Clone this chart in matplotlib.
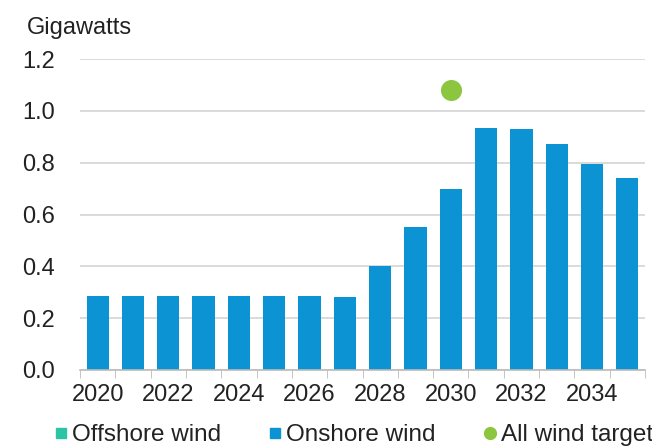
import matplotlib
matplotlib.use("Agg")
import matplotlib.pyplot as plt
from matplotlib.lines import Line2D
import numpy as np

plt.rcParams['font.family'] = ['Liberation Sans', 'DejaVu Sans']

years = list(range(2020, 2036))
onshore = [0.285, 0.285, 0.285, 0.285, 0.285, 0.285, 0.284, 0.283,
           0.40, 0.552, 0.70, 0.932, 0.929, 0.871, 0.795, 0.74]
offshore = [0.0] * 16
target_year = 2030
target_value = 1.08

c_off = "#2cc4a4"
c_on = "#0b93d3"
c_target = "#8cc63f"
txt = "#222222"
grid_c = "#d4d4d4"

fig = plt.figure(figsize=(6.52, 4.48), dpi=100)
ax = fig.add_axes([80 / 652, 1 - 370 / 448, 565 / 652, (370 - 59) / 448])

x = np.arange(len(years))
ax.bar(x, offshore, width=0.63, color=c_off, zorder=2)
ax.bar(x, onshore, width=0.63, bottom=offshore, color=c_on, zorder=2)
ax.scatter([years.index(target_year)], [target_value], s=230, color=c_target,
           zorder=3, linewidths=0)

ax.set_xlim(-0.5, len(years) - 0.5)
ax.set_ylim(0, 1.2)
ax.set_yticks(np.arange(0, 1.21, 0.2))
ax.set_yticklabels([f"{v:.1f}" for v in np.arange(0, 1.21, 0.2)])
ax.yaxis.grid(True, color=grid_c, linewidth=1.2, zorder=0)
ax.set_axisbelow(True)

ax.set_xticks(x[::2])
ax.set_xticklabels([str(y) for y in years[::2]])
ax.set_xticks(np.arange(-0.5, len(years), 1.0), minor=True)
ax.tick_params(axis='x', which='major', length=0, pad=10, labelsize=17, colors=txt)
ax.tick_params(axis='x', which='minor', length=6, color="#bbbbbb", direction='out')
ax.tick_params(axis='y', length=0, pad=18, labelsize=17, colors=txt)

for s in ['top', 'right', 'left']:
    ax.spines[s].set_visible(False)
ax.spines['bottom'].set_color("#bbbbbb")
ax.spines['bottom'].set_linewidth(1.2)

fig.text(27 / 652, 1 - 28 / 448, "Gigawatts", fontsize=17, color=txt,
         ha='left', va='center')

handles = [
    Line2D([], [], marker='s', linestyle='none', markersize=7, color=c_off),
    Line2D([], [], marker='s', linestyle='none', markersize=7, color=c_on),
    Line2D([], [], marker='o', linestyle='none', markersize=8.5, color=c_target),
]
fig.legend(handles, ["Offshore wind", "Onshore wind", "All wind target"],
           loc='center', bbox_to_anchor=(0.543, 1 - 435 / 448), ncol=3,
           frameon=False, fontsize=17.5, handletextpad=0.2, columnspacing=2.0,
           handlelength=0.5, labelcolor=txt, borderaxespad=0)

fig.savefig("out.png", dpi=100, facecolor="white")
